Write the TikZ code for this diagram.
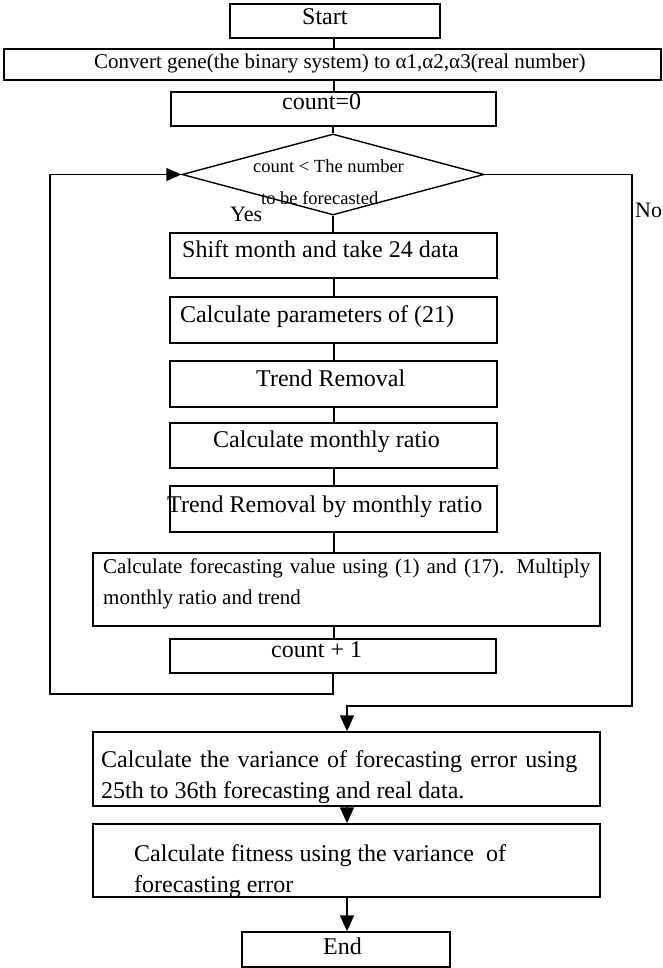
\documentclass[tikz,border=0pt]{standalone}
\usepackage{fontspec}
\setmainfont{Liberation Serif}
\usetikzlibrary{arrows.meta,shapes.geometric}
\begin{document}
\begin{tikzpicture}[x=1pt,y=-1pt,
  box/.style={draw,line width=1.4pt,rectangle,inner sep=0pt},
  dia/.style={draw,line width=1.4pt,diamond,inner sep=0pt,minimum width=302pt,minimum height=81pt},
  txt/.style={inner sep=0pt,anchor=base west,font=\fontsize{24}{28}\selectfont},
  conn/.style={line width=1.3pt},
  arr/.style={line width=1.5pt,-{Triangle[length=16pt,width=14pt]}},
  larr/.style={line width=1.5pt,-{Triangle[length=15pt,width=13pt]}}
]
\useasboundingbox (0,0) rectangle (663,968);

% boxes
\node[box,minimum width=210pt,minimum height=34pt] (start) at (335,21) {};
\node[box,minimum width=657pt,minimum height=31pt] (conv) at (332.5,64.5) {};
\node[box,minimum width=325pt,minimum height=34pt] (cnt0) at (333.5,109) {};
\node[dia] (dec) at (333,174.5) {};
\node[box,minimum width=327pt,minimum height=45pt] (shift) at (333.5,255.5) {};
\node[box,minimum width=327pt,minimum height=46pt] (param) at (333.5,320) {};
\node[box,minimum width=327pt,minimum height=46pt] (trend) at (333.5,384) {};
\node[box,minimum width=327pt,minimum height=45pt] (ratio) at (333.5,445.5) {};
\node[box,minimum width=327pt,minimum height=46pt] (trendby) at (333.5,509) {};
\node[box,minimum width=507pt,minimum height=73pt] (fcst) at (346.5,589.5) {};
\node[box,minimum width=326pt,minimum height=34pt] (cnt1) at (333,656) {};
\node[box,minimum width=507pt,minimum height=74pt] (var) at (346.5,769) {};
\node[box,minimum width=507pt,minimum height=73pt] (fit) at (346.5,860.5) {};
\node[box,minimum width=208pt,minimum height=35pt] (end) at (346,949.5) {};

% texts
\node[txt] (tstart) at (302,25) {Start};
\node[txt,font=\fontsize{21}{25}\selectfont] (tconv) at (94,69) {Convert gene(the binary system) to α1,α2,α3(real number)};
\node[txt] (tcnt0) at (282,110) {count=0};
\node[txt,font=\fontsize{18.5}{22}\selectfont] (tdec1) at (253,173) {count < The number};
\node[txt,font=\fontsize{18.5}{22}\selectfont] (tdec2) at (261,205) {to be forecasted};
\node[txt,font=\fontsize{22}{26}\selectfont] (tyes) at (230,222) {Yes};
\node[txt,font=\fontsize{22}{26}\selectfont] (tno) at (635,218) {No};
\node[txt] (tshift) at (182,258) {Shift month and take 24 data};
\node[txt] (tparam) at (180,322) {Calculate parameters of (21)};
\node[txt] (ttrend) at (256,386) {Trend Removal};
\node[txt] (tratio) at (213,447) {Calculate monthly ratio};
\node[txt] (ttrendby) at (167,512) {Trend Removal by monthly ratio};
\node[txt,font=\fontsize{21}{25}\selectfont] (tfcst1) at (103,573) {\makebox[487pt][s]{Calculate forecasting value using (1) and (17). Multiply}};
\node[txt,font=\fontsize{21}{25}\selectfont] (tfcst2) at (103,604) {monthly ratio and trend};
\node[txt] (tcnt1) at (271,657) {count + 1};
\node[txt] (tvar1) at (101,767) {\makebox[476pt][s]{Calculate the variance of forecasting error using}};
\node[txt] (tvar2) at (101,798) {25th to 36th forecasting and real data.};
\node[txt] (tfit1) at (134,861) {Calculate fitness using the variance\ \ of};
\node[txt] (tfit2) at (134,892) {forecasting error};
\node[txt] (tend) at (323,954) {End};

% helper coordinates
\coordinate (loopBR) at (333,694);
\coordinate (loopBL) at (50,694);
\coordinate (loopTL) at (50,174.5);
\coordinate (noTR) at (632,174.5);
\coordinate (noBR) at (632,706);
\coordinate (join) at (347,706);

% main column connectors
\draw[conn] (334,38) coordinate (s1) -- (s1 |- conv.north);
\draw[conn] (334,80) coordinate (s2) -- (s2 |- cnt0.north);
\draw[conn] (dec.north |- cnt0.south) -- (dec.north);
\draw[conn] (dec.south) -- (dec.south |- shift.north);
\draw[conn] (334,278) coordinate (s5) -- (s5 |- param.north);
\draw[conn] (334,343) coordinate (s6) -- (s6 |- trend.north);
\draw[conn] (334,407) coordinate (s7) -- (s7 |- ratio.north);
\draw[conn] (334,468) coordinate (s8) -- (s8 |- trendby.north);
\draw[conn] (334,532) coordinate (s9) -- (s9 |- fcst.north);
\draw[conn] (334,626) coordinate (s10) -- (s10 |- cnt1.north);

% loop back
\draw[larr] (cnt1.south) -- (loopBR) -- (loopBL) -- (loopTL) -- (dec.west);

% No branch
\draw[arr] (dec.east) -- (noTR) -- (noBR) -- (join) -- (join |- var.north);

% bottom
\draw[arr] (347,806) coordinate (s11) -- (s11 |- fit.north);
\draw[arr,line width=1.8pt] (347,897) coordinate (s12) -- (s12 |- end.north);
\end{tikzpicture}
\end{document}
